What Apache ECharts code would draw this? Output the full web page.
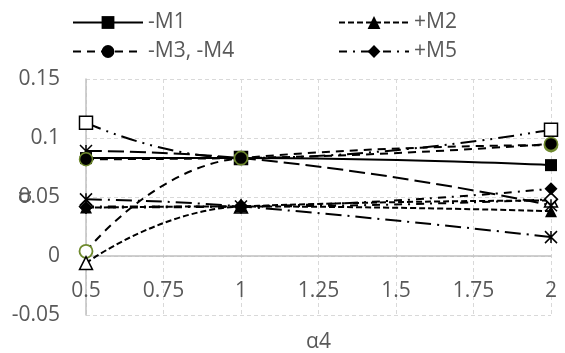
<!DOCTYPE html>
<html>
<head>
<meta charset="utf-8">
<script src="https://cdn.jsdelivr.net/npm/echarts@6/dist/echarts.min.js"></script>
<style>
html,body{margin:0;padding:0;background:#fff;}
#chart{width:565px;height:353px;}
</style>
</head>
<body>
<div id="chart"></div>
<script>
// x positions (α4)
const xValues = [0.5, 1, 2];
// Legend series
const m1 = [0.083, 0.083, 0.077];
const m2 = [0.041, 0.042, 0.038];
const m34 = [0.082, 0.083, 0.095];
const m5 = [0.041, 0.042, 0.057];
// Unlabelled series
const openSquare = [0.113, 0.083, 0.107];
const openCircle = [0.004, 0.083, 0.094];
const openTriangle = [-0.006, 0.042, 0.047];
const openDiamond = [0.042, 0.042, 0.048];
const starLongDash = [0.089, 0.083, 0.043];
const starLongDashDot = [0.048, 0.042, 0.016];

const xTicks = ['0.5', '0.75', '1', '1.25', '1.5', '1.75', '2'];
const yTicks = ['-0.05', '0', '0.05', '0.1', '0.15'];

const FONT = '"Open Sans", sans-serif';
const TXT = '#595959';
const GREEN = '#6f8a2e';
const STAR = 'path://M0,0L10,10M10,0L0,10M5,0L5,10';

function pts(arr) { return xValues.map((x, i) => [x, arr[i]]); }

function mk(name, arr, dash, symbol, size, fill, border, bw) {
  return {
    name: name,
    type: 'line',
    data: pts(arr),
    smooth: true,
    symbol: symbol,
    symbolSize: size,
    showAllSymbol: true,
    color: '#000',
    lineStyle: { color: '#000', width: 2, type: dash, cap: 'butt' },
    itemStyle: { color: fill, borderColor: border, borderWidth: bw, opacity: 1 },
    emphasis: { disabled: true },
    z: 2
  };
}

const series = [
  mk('s5', openSquare, [16, 6, 2, 6, 2, 6], 'rect', 13, '#fff', '#000', 1.5),
  mk('s6', openCircle, [8, 6], 'circle', 13, '#fff', GREEN, 1.8),
  mk('s7', openTriangle, [6, 3], 'triangle', 13, '#fff', '#000', 1.5),
  mk('s8', openDiamond, [8, 6, 2, 6], 'diamond', 13, '#fff', '#000', 1.5),
  mk('s9', starLongDash, [16, 6], STAR, 12, 'none', '#000', 1.5),
  mk('s10', starLongDashDot, [16, 6, 2, 6], STAR, 12, 'none', '#000', 1.5),
  mk('-M1', m1, 'solid', 'rect', 12, '#000', '#000', 0),
  mk('+M2', m2, [6, 3], 'triangle', 12, '#000', '#000', 0),
  mk('-M3, -M4', m34, [8, 6], 'circle', 13, '#000', GREEN, 1.5),
  mk('+M5', m5, [8, 6, 2, 6], 'diamond', 13, '#000', '#000', 0)
];

const legendCommon = {
  orient: 'vertical',
  padding: 0,
  itemWidth: 70,
  itemHeight: 16,
  itemGap: 8,
  selectedMode: false,
  textStyle: { fontFamily: FONT, fontSize: 21, color: TXT }
};
const noBorder = { borderWidth: 0 };

const chart = echarts.init(document.getElementById('chart'), null, { renderer: 'canvas' });
chart.setOption({
  animation: false,
  backgroundColor: '#fff',
  textStyle: { fontFamily: FONT },
  legend: [
    Object.assign({ left: 72, top: 12, data: [{ name: '-M1', itemStyle: noBorder }, { name: '-M3, -M4', itemStyle: noBorder }] }, legendCommon),
    Object.assign({ left: 338, top: 12, data: [{ name: '+M2', itemStyle: noBorder }, { name: '+M5', itemStyle: noBorder }] }, legendCommon)
  ],
  grid: { left: 86, right: 14, top: 79, bottom: 38, containLabel: false, outerBoundsMode: 'none' },
  xAxis: {
    type: 'value',
    min: 0.5, max: 2, interval: 0.25,
    offset: -59,
    name: 'α4',
    nameLocation: 'middle',
    nameGap: 76,
    nameMoveOverlap: false,
    nameTextStyle: { fontFamily: FONT, fontSize: 21, color: TXT },
    axisLine: { show: true, onZero: false, lineStyle: { color: '#c0c0c0', width: 1.5 } },
    axisTick: { show: false },
    axisLabel: {
      fontFamily: FONT, fontSize: 21, color: TXT, margin: 25,
      formatter: v => xTicks[Math.round((v - 0.5) / 0.25)]
    },
    splitLine: { show: true, lineStyle: { color: '#d9d9d9', width: 1, type: [4, 3] } }
  },
  yAxis: {
    type: 'value',
    min: -0.05, max: 0.15, interval: 0.05,
    name: 'α',
    nameLocation: 'middle',
    nameRotate: 90,
    nameGap: 50,
    nameMoveOverlap: false,
    nameTextStyle: { fontFamily: FONT, fontSize: 21, color: TXT },
    axisLine: { show: true, onZero: false, lineStyle: { color: '#c0c0c0', width: 1.5 } },
    axisTick: { show: false },
    axisLabel: {
      fontFamily: FONT, fontSize: 21, color: TXT, margin: 26,
      formatter: v => yTicks[Math.round((v + 0.05) / 0.05)]
    },
    splitLine: { show: true, lineStyle: { color: '#d9d9d9', width: 1, type: [4, 3] } }
  },
  series: series
});
</script>
</body>
</html>
